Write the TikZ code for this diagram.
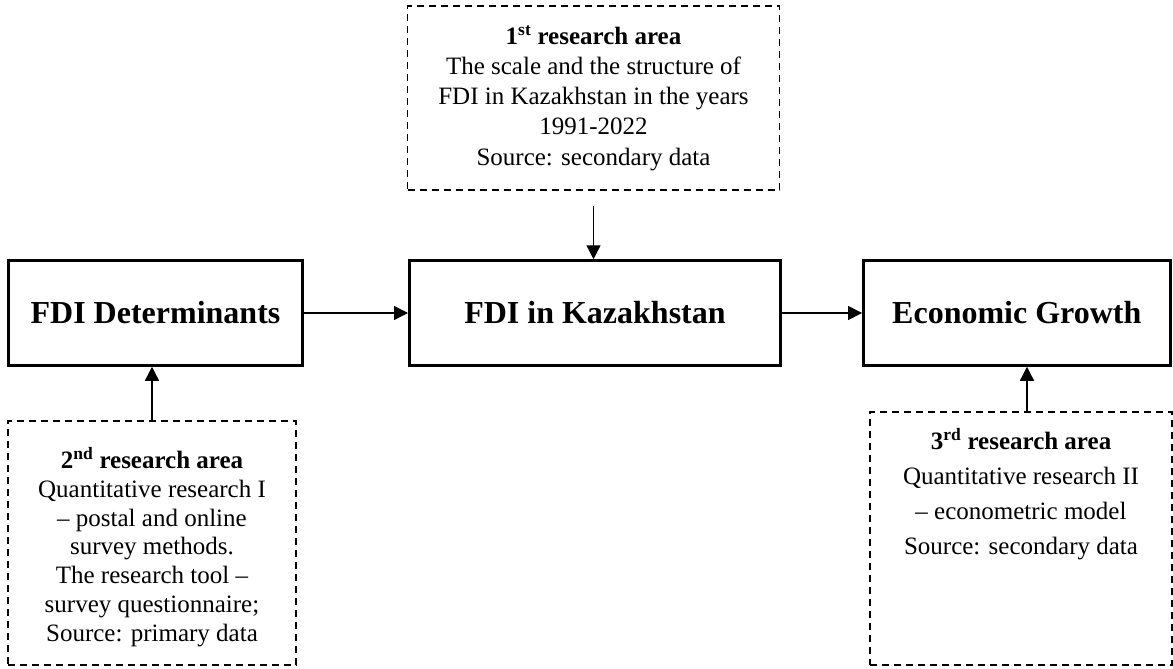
\documentclass[tikz,border=0pt]{standalone}
\usepackage{fontspec}
\setmainfont{Liberation Serif}
\usetikzlibrary{arrows.meta}
\begin{document}
\begin{tikzpicture}[x=1pt,y=-1pt,
 mainbox/.style={draw, line width=3pt, font=\fontsize{32}{36}\selectfont\bfseries, inner sep=0pt},
 areabox/.style={draw, dash pattern=on 7pt off 5pt, line width=1.5pt, inner sep=0pt},
 areatext/.style={align=center, inner sep=0pt},
 conn/.style={line width=1.3pt, -{Triangle[length=14pt,width=14pt]}}]
\useasboundingbox (0,0) rectangle (1173,669);
% main boxes
\node[mainbox, minimum width=294pt, minimum height=104.5pt] (det) at (155.5,313) {FDI Determinants};
\node[mainbox, minimum width=371pt, minimum height=104.5pt] (kaz) at (595,313) {FDI in Kazakhstan};
\node[mainbox, minimum width=306.5pt, minimum height=104.5pt] (eco) at (1016.8,313) {Economic Growth};
% dashed boxes
\node[areabox, minimum width=372pt, minimum height=184pt] (ra1) at (593.5,98) {};
\node[areabox, minimum width=288pt, minimum height=244pt] (ra2) at (152,543) {};
\node[areabox, minimum width=302pt, minimum height=253pt] (ra3) at (1021,538.5) {};
% texts
\node[areatext, font=\fontsize{25}{30.2}\selectfont] (t1) at (ra1.center)
 {\textbf{1\textsuperscript{st} research area}\\The scale and the structure of\\FDI in Kazakhstan in the years\\1991-2022\\Source: secondary data};
\node[areatext, font=\fontsize{25}{28.8}\selectfont] (t2) at ([yshift=-4pt]ra2.center)
 {\textbf{2\textsuperscript{nd} research area}\\Quantitative research I\\– postal and online\\survey methods.\\The research tool –\\survey questionnaire;\\Source: primary data};
\node[areatext, anchor=north, font=\fontsize{25}{35}\selectfont] (t3) at ([yshift=-17pt]ra3.north)
 {\textbf{3\textsuperscript{rd} research area}\\Quantitative research II\\– econometric model\\Source: secondary data};
% connectors
\draw[conn] (det.east) -- (kaz.west);
\draw[conn] (kaz.east) -- (eco.west);
\draw[conn] ([yshift=-15pt]ra1.south) -- (ra1.south |- kaz.north);
\draw[conn] (ra2.north) -- (ra2.north |- det.south);
\draw[conn] ([xshift=6pt]ra3.north) -- ([xshift=6pt]ra3.north |- eco.south);
\end{tikzpicture}
\end{document}
